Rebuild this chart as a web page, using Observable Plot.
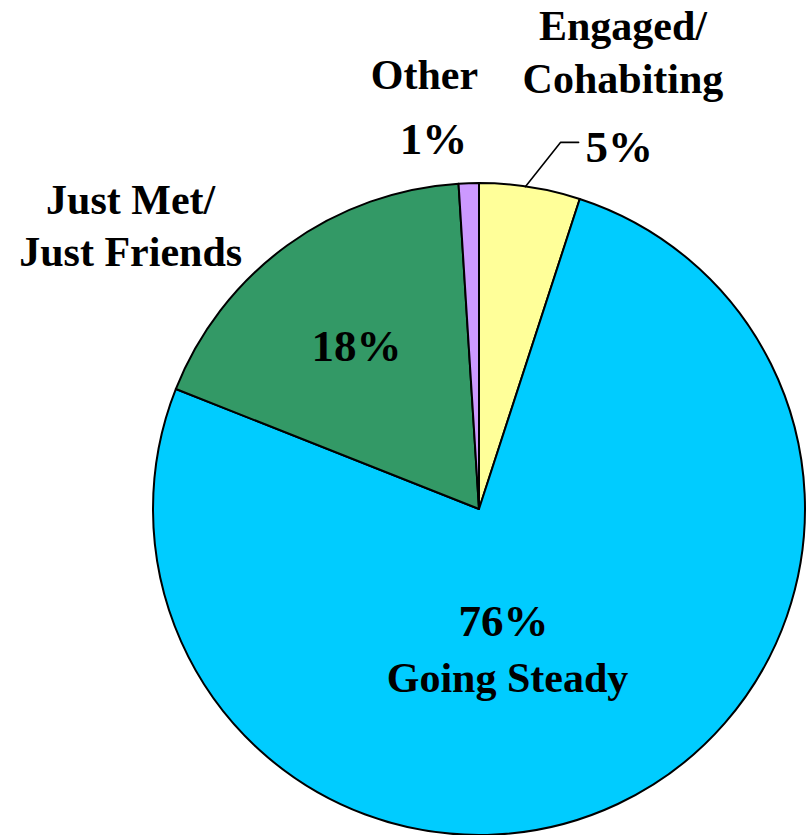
<!DOCTYPE html>
<html>
<head>
<meta charset="utf-8">
<script src="https://cdn.jsdelivr.net/npm/d3@7"></script>
<script src="https://cdn.jsdelivr.net/npm/@observablehq/plot@0.6"></script>
<style>
  html, body { margin: 0; padding: 0; background: #fff; }
  #chart { width: 812px; height: 835px; overflow: hidden; }
</style>
</head>
<body>
<div id="chart"></div>
<script>
// ---- data ----
const categories = ["Engaged/Cohabiting", "Going Steady", "Just Met/Just Friends", "Other"];
const shares = [5, 76, 18, 1];
const pctLabels = ["5%", "76%", "18%", "1%"];
const nameLabels = ["Engaged/\nCohabiting", "Going Steady", "Just Met/\nJust Friends", "Other"];
const colors = ["#FFFF99", "#00CCFF", "#339966", "#CC99FF"];

// ---- layout (pie units: radius = 1, centre at 0,0; y = baseline of last line) ----
const W = 812, H = 835;
const layout = {
  name: [ {x: 0.44, y: 1.279}, {x: 0.086, y: -0.561}, {x: -1.07, y: 0.748}, {x: -0.169, y: 1.291} ],
  pct:  [ {x: 0.429, y: 1.067}, {x: 0.074, y: -0.387}, {x: -0.377, y: 0.457}, {x: -0.141, y: 1.089} ]
};

const slices = d3.pie().sort(null).value(d => d.share).startAngle(0).endAngle(2 * Math.PI)(
  categories.map((c, i) => ({category: c, share: shares[i], color: colors[i]}))
);

const nameRows = categories.map((c, i) => ({text: nameLabels[i], ...layout.name[i]}));
const pctRows = categories.map((c, i) => ({text: pctLabels[i], ...layout.pct[i]}));

// leader line for the small "Engaged" slice: from the slice's mid-angle on the rim outwards
const s0 = slices[0];
const mid0 = (s0.startAngle + s0.endAngle) / 2;
const leader = [
  {x: Math.sin(mid0 - 0.016), y: Math.cos(mid0 - 0.016)},
  {x: 1.153 * Math.sin(mid0 + 0.06), y: 1.126},
  {x: 0.304, y: 1.126}
];

function pieMark(index, scales) {
  const cx = scales.x(0), cy = scales.y(0);
  const r = scales.x(1) - scales.x(0);
  const arc = d3.arc().innerRadius(0).outerRadius(r);
  const g = d3.create("svg:g").attr("transform", `translate(${cx},${cy})`);
  g.selectAll("path").data(slices).join("path")
    .attr("d", arc)
    .attr("fill", d => d.data.color)
    .attr("stroke", "#000")
    .attr("stroke-width", 2)
    .attr("stroke-linejoin", "round");
  return g.node();
}

const chart = Plot.plot({
  width: W,
  height: H,
  marginLeft: 153,
  marginRight: 7,
  marginTop: 183,
  marginBottom: 0,
  x: {domain: [-1, 1], axis: null},
  y: {domain: [-1, 1], axis: null},
  style: {fontFamily: "'Liberation Serif', 'Times New Roman', serif", background: "#fff", overflow: "visible"},
  marks: [
    pieMark,
    Plot.line(leader, {x: "x", y: "y", stroke: "#000", strokeWidth: 1.6}),
    Plot.text(nameRows, {x: "x", y: "y", text: "text", fontSize: 42, fontWeight: "bold", fill: "#000", lineAnchor: "bottom", lineHeight: 1.24}),
    Plot.text(pctRows, {x: "x", y: "y", text: "text", fontSize: 45, fontWeight: "bold", fill: "#000", lineAnchor: "bottom"})
  ]
});

document.getElementById("chart").appendChild(chart);
</script>
</body>
</html>
